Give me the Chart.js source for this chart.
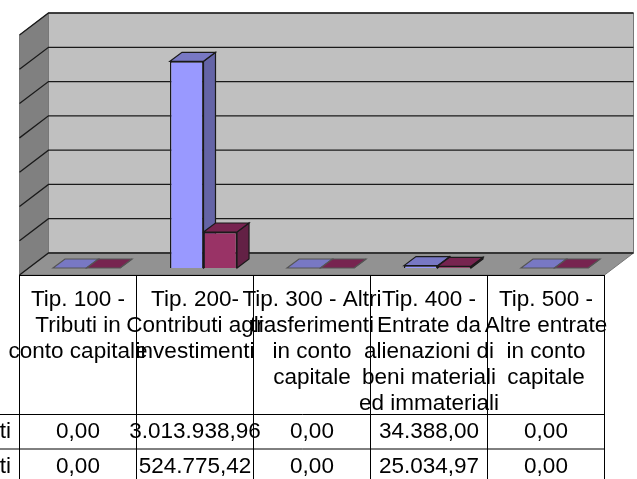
<!DOCTYPE html>
<html>
<head>
<meta charset="utf-8">
<style>
  html, body { margin: 0; background: #fff; overflow: hidden; }
  canvas { display: block; }
</style>
<script src="https://cdn.jsdelivr.net/npm/chart.js@4"></script>
</head>
<body>
<canvas id="chart" width="637" height="479"></canvas>
<script>
const categories = [
  ["Tip. 100 -", "Tributi in", "conto capitale"],
  ["Tip. 200-", "Contributi agli", "investimenti"],
  ["Tip. 300 - Altri", "trasferimenti", "in conto", "capitale"],
  ["Tip. 400 -", "Entrate da", "alienazioni di", "beni materiali", "ed immateriali"],
  ["Tip. 500 -", "Altre entrate", "in conto", "capitale"]
];
const firstSeries = [0, 3013938.96, 0, 34388.0, 0];
const secondSeries = [0, 524775.42, 0, 25034.97, 0];
// only the end of the row names is visible, the rest is cut by the page edge
const rowNames = ["ti", "ti"];

const FONT = '"Liberation Sans", Arial, sans-serif';
const LINE = "#1a1a1a";
// offsets from the plane the bars stand on
const BACK = { dx: 20.5, dy: -15 };
const FRONT = { dx: -8.5, dy: 7 };
const BAR_DEPTH = { dx: 12, dy: -9 };

const faceColors = [
  { side: "#6464a6", top: "#7878c4" },
  { side: "#632145", top: "#772450" }
];

function poly(ctx, pts, fill, stroke, width) {
  ctx.beginPath();
  pts.forEach((p, i) => (i ? ctx.lineTo(p[0], p[1]) : ctx.moveTo(p[0], p[1])));
  ctx.closePath();
  ctx.fillStyle = fill;
  ctx.fill();
  ctx.strokeStyle = stroke;
  ctx.lineWidth = width;
  ctx.stroke();
}

function fmt(v) {
  return v.toLocaleString("it-IT", { minimumFractionDigits: 2, maximumFractionDigits: 2, useGrouping: "always" });
}

const walls = {
  id: "walls",
  beforeDatasetsDraw(chart) {
    const { ctx, chartArea: a, scales: { y } } = chart;
    const top = a.top, bottom = a.bottom;
    const l = a.left, r = a.right;

    // back wall, side wall, floor
    poly(ctx, [[l + BACK.dx, top + BACK.dy], [r + BACK.dx, top + BACK.dy], [r + BACK.dx, bottom + BACK.dy], [l + BACK.dx, bottom + BACK.dy]], "#c0c0c0", "#777", 1);
    poly(ctx, [[l + FRONT.dx, top + FRONT.dy], [l + BACK.dx, top + BACK.dy], [l + BACK.dx, bottom + BACK.dy], [l + FRONT.dx, bottom + FRONT.dy]], "#808080", "#777", 1);
    poly(ctx, [[l + FRONT.dx, bottom + FRONT.dy], [l + BACK.dx, bottom + BACK.dy], [r + BACK.dx, bottom + BACK.dy], [r + FRONT.dx, bottom + FRONT.dy]], "#929292", "#777", 1);

    // gridlines run along the side wall and the back wall
    ctx.strokeStyle = LINE;
    ctx.lineWidth = 1.3;
    y.ticks.forEach(t => {
      const py = y.getPixelForValue(t.value);
      ctx.beginPath();
      ctx.moveTo(l + FRONT.dx, py + FRONT.dy);
      ctx.lineTo(l + BACK.dx, py + BACK.dy);
      ctx.lineTo(r + BACK.dx, py + BACK.dy);
      ctx.stroke();
    });

    // side and top faces of the bars, the front faces come from the library
    chart.data.datasets.forEach((ds, i) => {
      chart.getDatasetMeta(i).data.forEach(bar => {
        const x0 = bar.x - bar.width / 2, x1 = bar.x + bar.width / 2;
        const d = BAR_DEPTH;
        const edge = bar.base - bar.y < 1 ? "#555" : LINE;
        poly(ctx, [[x1, bar.y], [x1 + d.dx, bar.y + d.dy], [x1 + d.dx, bar.base + d.dy], [x1, bar.base]], faceColors[i].side, edge, 1.2);
        poly(ctx, [[x0, bar.y], [x0 + d.dx, bar.y + d.dy], [x1 + d.dx, bar.y + d.dy], [x1, bar.y]], faceColors[i].top, edge, 1.2);
      });
    });
  },
  afterDraw(chart) {
    const { ctx, chartArea: a, scales: { x } } = chart;
    const l = a.left + FRONT.dx, r = a.right + FRONT.dx;
    const floorY = a.bottom + FRONT.dy;
    const step = (a.right - a.left) / categories.length;
    const rowY = [414.5, 449, 479];

    // data table under the plot
    ctx.strokeStyle = "#000";
    ctx.lineWidth = 1;
    for (let i = 0; i <= categories.length; i++) {
      const px = Math.floor(l + step * i) + 0.5;
      ctx.beginPath();
      ctx.moveTo(px, floorY);
      ctx.lineTo(px, 479);
      ctx.stroke();
    }
    ctx.beginPath();
    ctx.moveTo(l, floorY + 0.5);
    ctx.lineTo(r, floorY + 0.5);
    rowY.slice(0, 2).forEach(py => {
      ctx.moveTo(0, py);
      ctx.lineTo(r, py);
    });
    ctx.stroke();

    ctx.fillStyle = "#000";
    ctx.font = "22.5px " + FONT;
    ctx.textBaseline = "middle";
    [firstSeries, secondSeries].forEach((vals, row) => {
      const cy = rowY[row] + 17.5;
      ctx.textAlign = "right";
      ctx.fillText(rowNames[row], 11, cy);
      ctx.textAlign = "center";
      vals.forEach((v, i) => ctx.fillText(fmt(v), x.getPixelForValue(i) + FRONT.dx, cy));
    });
  }
};

new Chart(document.getElementById("chart"), {
  type: "bar",
  data: {
    labels: categories,
    datasets: [
      { label: rowNames[0], data: firstSeries, backgroundColor: "#9999ff", borderColor: LINE, borderWidth: 1.4 },
      { label: rowNames[1], data: secondSeries, backgroundColor: "#993366", borderColor: LINE, borderWidth: 1.4 }
    ]
  },
  options: {
    responsive: false,
    animation: false,
    devicePixelRatio: 1,
    layout: { padding: { left: 28, right: 24, top: 28, bottom: 0 } },
    plugins: { legend: { display: false }, tooltip: { enabled: false } },
    datasets: { bar: { categoryPercentage: 0.573, barPercentage: 1 } },
    scales: {
      x: {
        grid: { display: false, drawTicks: false },
        border: { display: false },
        afterFit(scale) {
          scale.height = 211;
          // wide labels must not push the plot inwards
          scale.paddingLeft = 0;
          scale.paddingRight = 0;
        },
        ticks: {
          autoSkip: false,
          maxRotation: 0,
          minRotation: 0,
          labelOffset: FRONT.dx,
          padding: 19,
          color: "#000",
          font: { family: FONT, size: 22.5, lineHeight: 1.157 }
        }
      },
      y: {
        display: false,
        min: 0,
        max: 3500000,
        ticks: { stepSize: 500000 }
      }
    }
  },
  plugins: [walls]
});
</script>
</body>
</html>
